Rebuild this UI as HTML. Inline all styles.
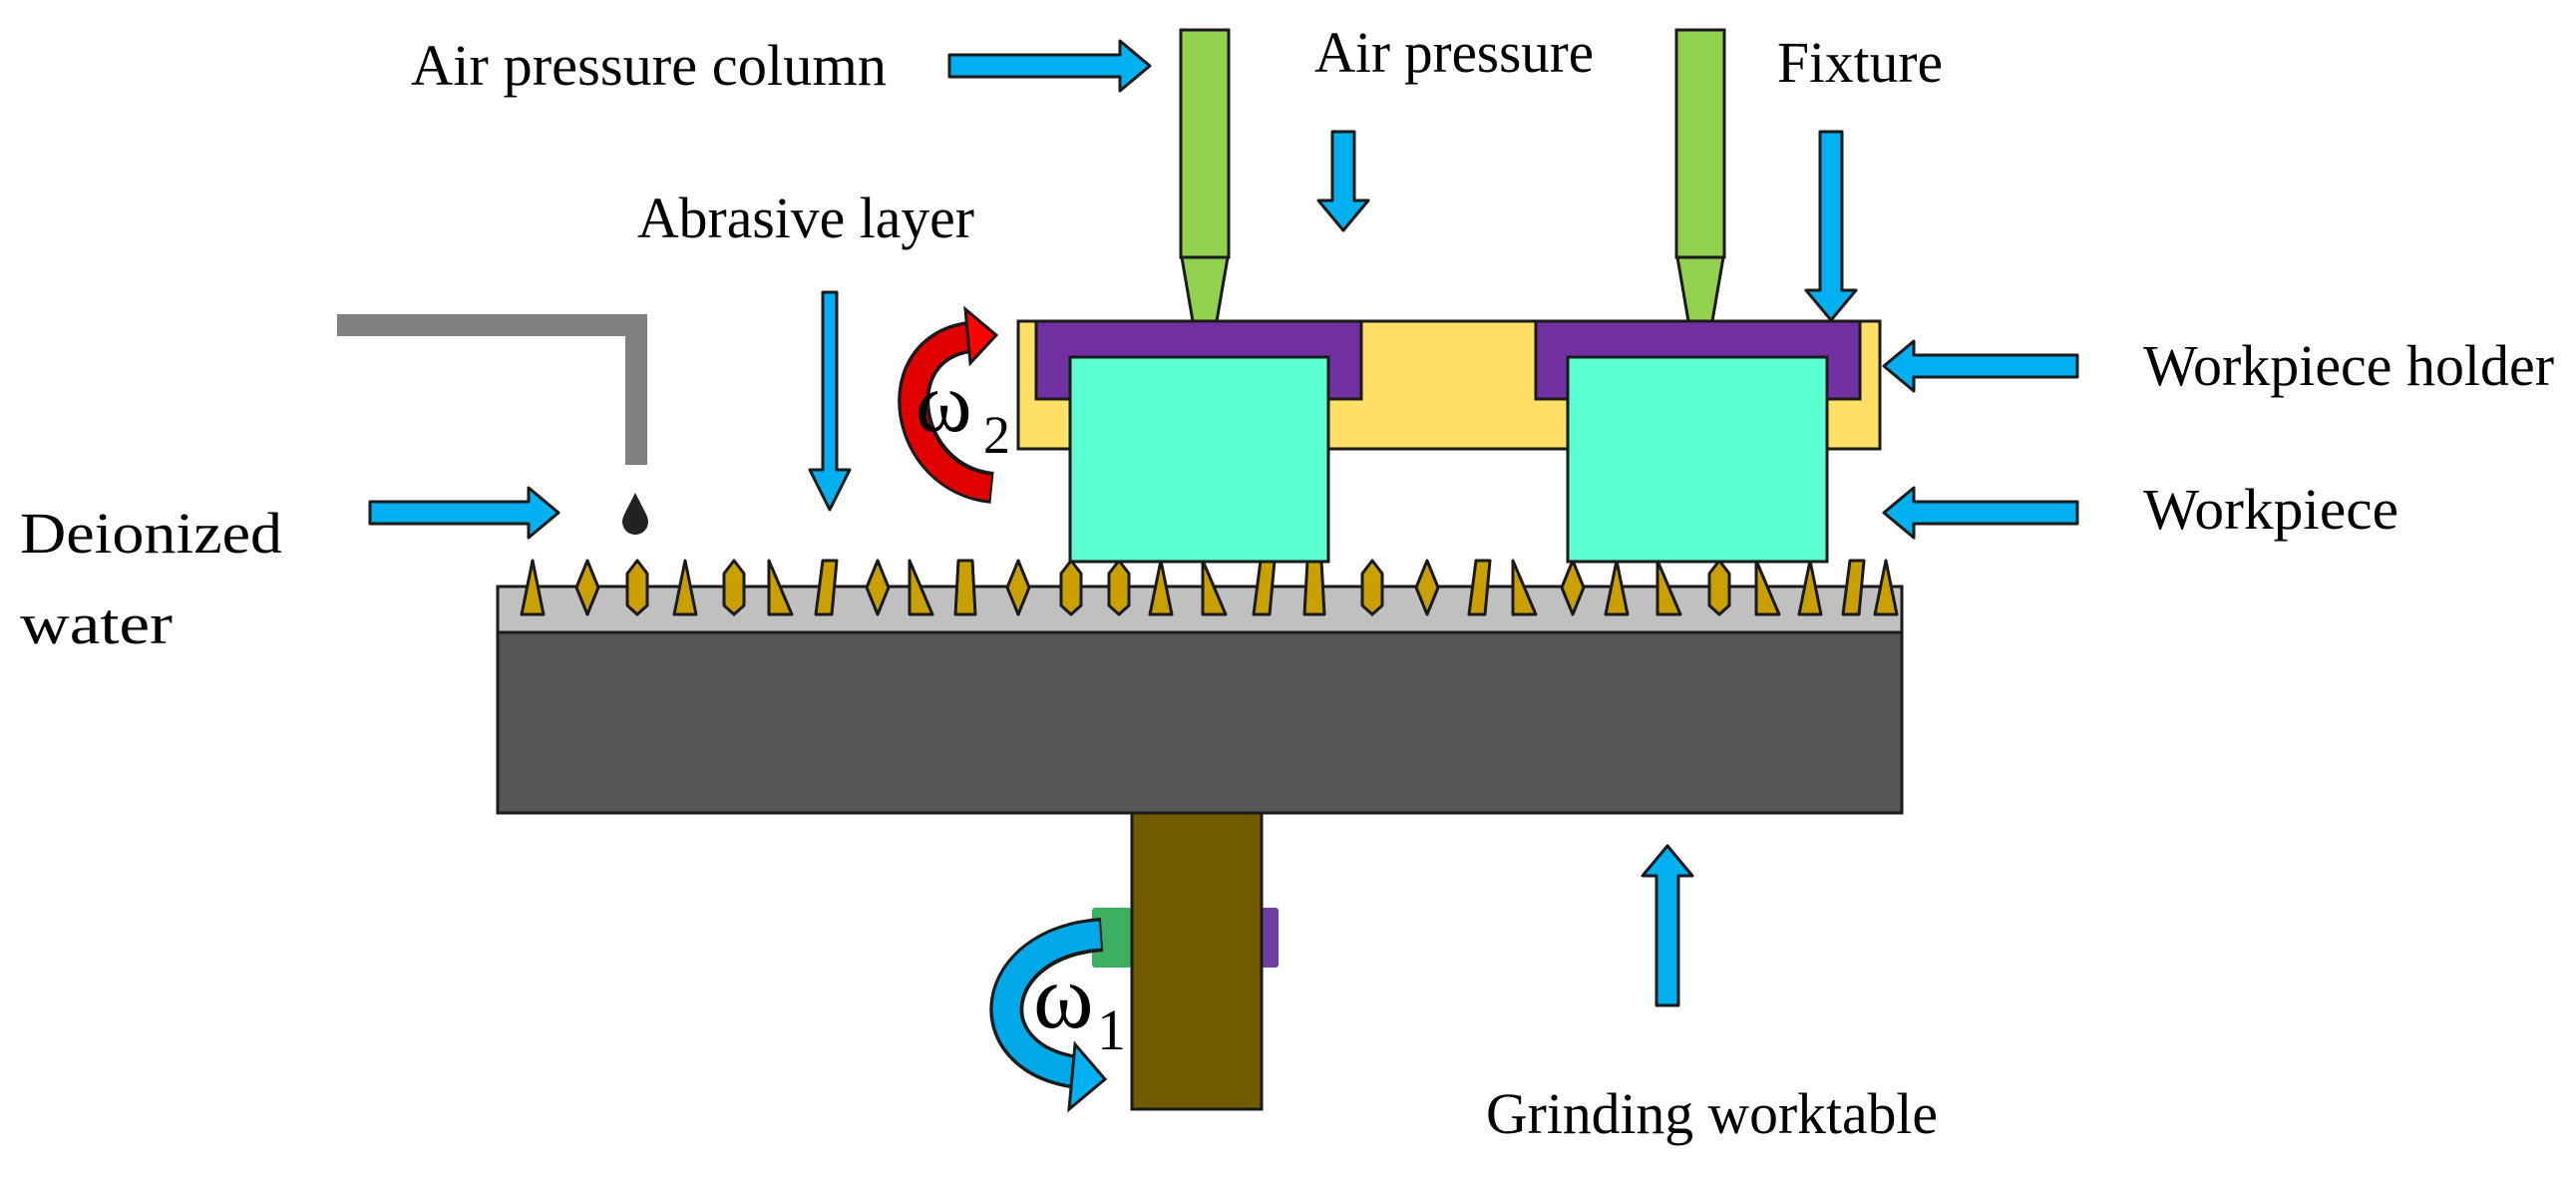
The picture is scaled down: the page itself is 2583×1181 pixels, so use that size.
<!DOCTYPE html>
<html><head><meta charset="utf-8"><style>
html,body{margin:0;padding:0;background:#fff;}
svg{display:block;}
text{font-family:"Liberation Serif",serif;font-size:58px;fill:#000;}
</style></head><body>
<svg width="2583" height="1181" viewBox="0 0 2583 1181" xmlns="http://www.w3.org/2000/svg">
<defs>
<polygon id="tri" points="0,-27 -11,27 11,27"/>
<polygon id="dia" points="0,-27 -11,0 0,27 11,0"/>
<polygon id="hex" points="0,-27 -10,-14 -10,18 0,27 10,18 10,-14"/>
<polygon id="rtri" points="-9,-27 -9,27 14,27"/>
<polygon id="para" points="-3,-27 11,-27 6,27 -10,27"/>
<polygon id="trap" points="-7,-27 7,-27 10,27 -10,27"/>
</defs>
<g stroke="#1a1a1a" stroke-width="3" stroke-linejoin="round" fill="#00b0f0">
<path d="M952,55 H1123 V41 L1153,66 L1123,91 V77 H952 Z"/>
<path d="M1336,132 H1358 V201 H1372 L1347,231 L1322,201 H1336 Z"/>
<path d="M1825,132 H1847 V291 H1861 L1836,321 L1811,291 H1825 Z"/>
<path d="M825,293 H839 V471 H852 L832,511 L812,471 H825 Z"/>
<path d="M371,503 H530 V489 L560,514 L530,539 V525 H371 Z"/>
<path d="M2083,356 H1919 V342 L1889,367 L1919,392 V378 H2083 Z"/>
<path d="M2083,503 H1919 V489 L1889,514 L1919,539 V525 H2083 Z"/>
<path d="M1661,1008 H1683 V878 H1697 L1672,848 L1647,878 H1661 Z"/>
</g>
<path d="M338,326 H638 V466" fill="none" stroke="#808080" stroke-width="22"/>
<path d="M637,494 C628,512 624,518 624,523 A13,13 0 0 0 650,523 C650,518 646,512 637,494 Z" fill="#222"/>
<rect x="499" y="634" width="1408" height="181" fill="#555" stroke="#1a1a1a" stroke-width="3"/>
<rect x="499" y="588" width="1408" height="46" fill="#c0c0c0" stroke="#1a1a1a" stroke-width="3"/>
<g fill="#c9a000" stroke="#1a1a1a" stroke-width="3" stroke-linejoin="round">
<use href="#tri" x="534" y="589"/><use href="#dia" x="589" y="589"/><use href="#hex" x="639" y="589"/>
<use href="#tri" x="687" y="589"/><use href="#hex" x="736" y="589"/><use href="#rtri" x="780" y="589"/>
<use href="#para" x="828" y="589"/><use href="#dia" x="880" y="589"/><use href="#rtri" x="921" y="589"/>
<use href="#trap" x="968" y="589"/><use href="#dia" x="1021" y="589"/><use href="#hex" x="1074" y="589"/>
<use href="#hex" x="1122" y="589"/><use href="#tri" x="1164" y="589"/><use href="#rtri" x="1215" y="589"/>
<use href="#para" x="1267" y="589"/><use href="#trap" x="1318" y="589"/><use href="#hex" x="1376" y="589"/>
<use href="#dia" x="1431" y="589"/><use href="#para" x="1483" y="589"/><use href="#rtri" x="1526" y="589"/>
<use href="#dia" x="1577" y="589"/><use href="#tri" x="1621" y="589"/><use href="#rtri" x="1671" y="589"/>
<use href="#hex" x="1724" y="589"/><use href="#rtri" x="1770" y="589"/><use href="#tri" x="1815" y="589"/>
<use href="#para" x="1858" y="589"/><use href="#tri" x="1891" y="589"/>
</g>
<rect x="1021" y="322" width="864" height="128" fill="#ffe066" stroke="#1a1a1a" stroke-width="3"/>
<path d="M1039,322 H1365 V400 H1332 V358 H1073 V400 H1039 Z" fill="#7030a0" stroke="#1a1a1a" stroke-width="3"/>
<path d="M1540,322 H1865 V400 H1832 V358 H1572 V400 H1540 Z" fill="#7030a0" stroke="#1a1a1a" stroke-width="3"/>
<rect x="1073" y="358" width="259" height="205" fill="#5affd2" stroke="#1a1a1a" stroke-width="3"/>
<rect x="1572" y="358" width="260" height="205" fill="#5affd2" stroke="#1a1a1a" stroke-width="3"/>
<g fill="#92d050" stroke="#1a1a1a" stroke-width="3">
<rect x="1184" y="30" width="48" height="228"/>
<polygon points="1185,258 1231,258 1220,322 1196,322"/>
<rect x="1681" y="30" width="48" height="228"/>
<polygon points="1682,258 1728,258 1717,322 1693,322"/>
</g>
<rect x="1095" y="910" width="40" height="60" fill="#3cb060" rx="3"/>
<rect x="1262" y="910" width="20" height="60" fill="#7040a0" rx="3"/>
<rect x="1135" y="815" width="130" height="297" fill="#735c00" stroke="#1a1a1a" stroke-width="3"/>
<path d="M1105,937 C990,945 975,1060 1080,1075" fill="none" stroke="#1a1a1a" stroke-width="34"/>
<path d="M1103,937 C990,945 975,1060 1080,1075" fill="none" stroke="#00a8e8" stroke-width="27"/>
<polygon points="1108,1082 1078,1047 1072,1112" fill="#00b0f0" stroke="#1a1a1a" stroke-width="3"/>
<text x="1036" y="1030" style="font-size:92px">ω</text>
<text x="1100" y="1052" style="font-size:58px">1</text>
<path d="M995,489 C905,480 885,350 972,338" fill="none" stroke="#1a1a1a" stroke-width="32"/>
<path d="M993,489 C905,480 885,350 972,338" fill="none" stroke="#e00000" stroke-width="25"/>
<polygon points="999,336 968,310 973,364" fill="#ff0000" stroke="#1a1a1a" stroke-width="3"/>
<text x="918" y="432" style="font-size:86px">ω</text>
<text x="986" y="454" style="font-size:54px">2</text>
<text x="412" y="85" textLength="477" lengthAdjust="spacingAndGlyphs">Air pressure column</text>
<text x="1318" y="72" textLength="280" lengthAdjust="spacingAndGlyphs">Air pressure</text>
<text x="1782" y="82" textLength="166" lengthAdjust="spacingAndGlyphs">Fixture</text>
<text x="639" y="238" textLength="338" lengthAdjust="spacingAndGlyphs">Abrasive layer</text>
<text x="20" y="554" textLength="263" lengthAdjust="spacingAndGlyphs">Deionized</text>
<text x="20" y="645" textLength="153" lengthAdjust="spacingAndGlyphs">water</text>
<text x="2149" y="386" textLength="412" lengthAdjust="spacingAndGlyphs">Workpiece holder</text>
<text x="2149" y="530" textLength="256" lengthAdjust="spacingAndGlyphs">Workpiece</text>
<text x="1490" y="1136" textLength="453" lengthAdjust="spacingAndGlyphs">Grinding worktable</text>
</svg>
</body></html>
